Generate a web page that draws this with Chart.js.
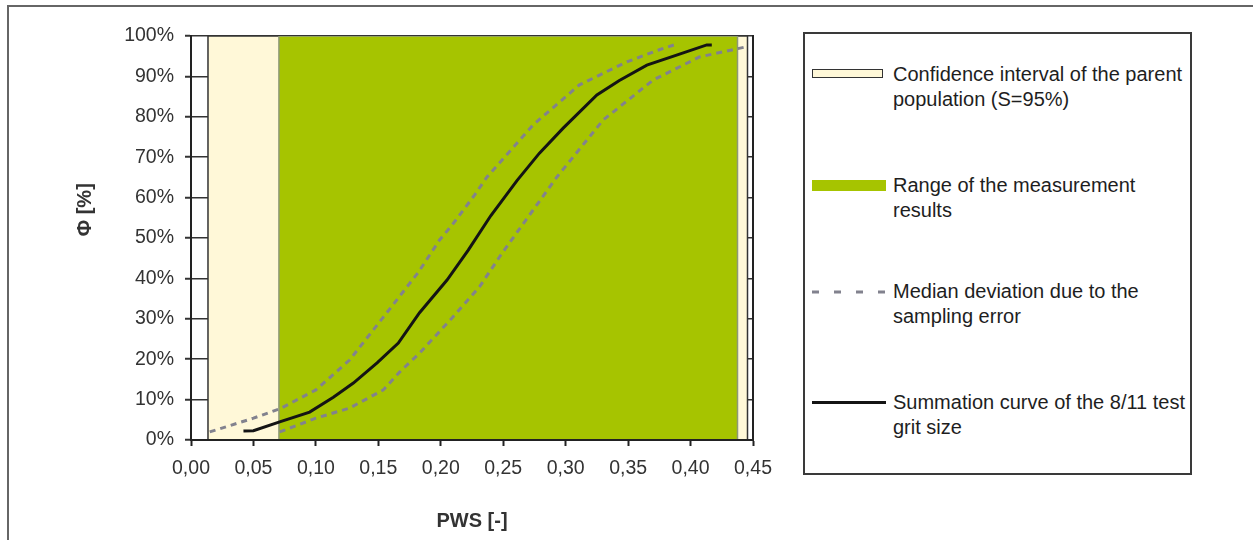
<!DOCTYPE html>
<html>
<head>
<meta charset="utf-8">
<script src="https://cdn.jsdelivr.net/npm/chart.js@4.4.1/dist/chart.umd.min.js"></script>
<style>
html,body{margin:0;padding:0;background:#fff;width:1253px;height:540px;overflow:hidden;font-family:"Liberation Sans",Arial,sans-serif;}
#frame{position:absolute;left:7px;top:5px;width:1400px;height:700px;border-left:2px solid #666;border-top:2px solid #666;}
#wrap{position:absolute;left:0;top:0;width:800px;height:540px;}
#legend{position:absolute;left:803px;top:32px;width:385px;height:439px;border:2px solid #3a3a3a;background:#fff;}
.txt{position:absolute;left:88px;font-size:20px;line-height:25px;color:#1e1e1e;white-space:nowrap;}
.sw{position:absolute;left:7px;box-sizing:border-box;}
</style>
</head>
<body>
<div id="frame"></div>
<div id="wrap"><canvas id="c"></canvas></div>
<div id="legend"></div>
<script>
// ---- data ----
const xTickLabels = ['0,00','0,05','0,10','0,15','0,20','0,25','0,30','0,35','0,40','0,45'];
const yTickLabels = ['0%','10%','20%','30%','40%','50%','60%','70%','80%','90%','100%'];
const xTitle = 'PWS [-]';
const yTitle = 'Φ [%]';

// Confidence interval of the parent population (band edges, PWS)
const ciX = [0.0136, 0.0136, 0.4456, 0.4456];
const ciY = [0, 100, 100, 0];
// Range of the measurement results (band edges, PWS)
const rangeX = [0.0704, 0.0704, 0.4376, 0.4376];
const rangeY = [0, 100, 100, 0];

// Summation curve of the 8/11 test grit size
const sumX = [0.042, 0.050, 0.071, 0.095, 0.114, 0.130, 0.149, 0.166, 0.183, 0.205, 0.222, 0.240, 0.261, 0.279, 0.298, 0.325, 0.343, 0.365, 0.390, 0.413, 0.417];
const sumY = [2.2, 2.3, 4.5, 6.9, 10.6, 14.1, 19.1, 24.0, 31.5, 39.6, 47.0, 55.5, 64.2, 71.0, 77.2, 85.4, 89.0, 92.8, 95.4, 97.8, 97.8];

// Median deviation due to the sampling error (upper / lower)
const upX = [0.015, 0.050, 0.071, 0.100, 0.127, 0.154, 0.182, 0.199, 0.209, 0.227, 0.237, 0.274, 0.311, 0.349, 0.375, 0.387];
const upY = [2.0, 5.4, 7.7, 12.4, 19.8, 30.4, 41.5, 49.5, 53.2, 60.6, 65.1, 78.0, 87.9, 93.6, 96.6, 97.8];
const loX = [0.071, 0.100, 0.127, 0.154, 0.167, 0.183, 0.209, 0.231, 0.247, 0.255, 0.293, 0.330, 0.370, 0.407, 0.4456];
const loY = [2.0, 5.4, 7.9, 12.4, 16.8, 21.5, 30.2, 37.9, 45.3, 48.8, 65.1, 79.2, 89.1, 94.8, 97.4];

const legendLabels = [
  ['Confidence interval of the parent', 'population (S=95%)'],
  ['Range of the measurement', 'results'],
  ['Median deviation due to the', 'sampling error'],
  ['Summation curve of the 8/11 test', 'grit size']
];

// ---- build ----
const zip = (xs, ys) => xs.map((x, i) => ({x: x, y: ys[i]}));
const FONT = '"Liberation Sans", Arial, sans-serif';
Chart.defaults.font.family = FONT;

const CREAM = '#fff8d8', GREEN = '#a6c400', DASH = '#82828e', BLACK = '#141414';

const yTitlePlugin = {
  id: 'yTitle',
  afterDraw(chart) {
    const {ctx, chartArea: a} = chart;
    ctx.save();
    ctx.translate(a.left - 106, a.top + (a.bottom - a.top) * 0.43);
    ctx.rotate(-Math.PI / 2);
    ctx.font = 'bold 20px ' + FONT;
    ctx.fillStyle = '#333';
    ctx.textAlign = 'center';
    ctx.textBaseline = 'middle';
    ctx.fillText(yTitle, 0, 0);
    ctx.restore();
  }
};

new Chart(document.getElementById('c'), {
  type: 'line',
  data: {
    datasets: [
      {label: legendLabels[3].join(' '), data: zip(sumX, sumY), borderColor: BLACK, borderWidth: 3,
       pointRadius: 0, tension: 0, fill: false, order: 0},
      {label: legendLabels[2].join(' '), data: zip(upX, upY), borderColor: DASH, borderWidth: 3,
       borderDash: [6, 5], pointRadius: 0, tension: 0, fill: false, order: 0},
      {label: legendLabels[2].join(' ') + ' (lower)', data: zip(loX, loY), borderColor: DASH, borderWidth: 3,
       borderDash: [6, 5], pointRadius: 0, tension: 0, fill: false, order: 0},
      {label: legendLabels[1].join(' '), data: zip(rangeX, rangeY), borderColor: '#8e9878', borderWidth: 1.5,
       backgroundColor: GREEN, fill: 'origin', pointRadius: 0, tension: 0, order: 1},
      {label: legendLabels[0].join(' '), data: zip(ciX, ciY), borderColor: '#333', borderWidth: 1.5,
       backgroundColor: CREAM, fill: 'origin', pointRadius: 0, tension: 0, order: 2}
    ]
  },
  options: {
    responsive: true,
    maintainAspectRatio: false,
    animation: false,
    layout: {padding: {top: 36, right: 47, bottom: 0, left: 0}},
    plugins: {legend: {display: false}, tooltip: {enabled: false}},
    scales: {
      x: {
        type: 'linear', min: 0, max: 0.45,
        afterFit: s => { s.height = 100; },
        ticks: {stepSize: 0.05, padding: 11, color: '#333', font: {size: 19.5},
                callback: v => xTickLabels[Math.round(v / 0.05)]},
        grid: {drawOnChartArea: false, drawTicks: true, tickLength: 6, color: '#222', tickWidth: 2},
        border: {display: true, color: '#222', width: 2, z: 1},
        title: {display: true, text: xTitle, color: '#333', font: {size: 20, weight: 'bold'},
                padding: {top: 0, bottom: 7}}
      },
      y: {
        type: 'linear', min: 0, max: 100,
        afterFit: s => { s.width = 191; },
        ticks: {stepSize: 10, padding: 11, color: '#333', font: {size: 19.5},
                callback: v => yTickLabels[Math.round(v / 10)]},
        grid: {color: '#333', lineWidth: 1.5, tickLength: 6, tickWidth: 2},
        border: {display: true, color: '#222', width: 2, z: 1}
      },
      y2: {
        type: 'linear', position: 'right', min: 0, max: 100,
        afterFit: s => { s.width = 0; },
        ticks: {display: false},
        grid: {display: false},
        border: {display: true, color: '#222', width: 2, z: 1}
      }
    }
  },
  plugins: [yTitlePlugin]
});

// ---- HTML legend ----
const lg = document.getElementById('legend');
const tops = [28, 139, 245, 356];
const swatches = [
  '<div class="sw" style="top:35px;width:71px;height:9px;background:' + CREAM + ';border:1.5px solid #333;"></div>',
  '<div class="sw" style="top:146px;width:74px;height:11px;background:' + GREEN + ';"></div>',
  '<svg class="sw" style="top:255px" width="76" height="6"><line x1="0" y1="3" x2="76" y2="3" stroke="' + DASH + '" stroke-width="3" stroke-dasharray="7 15"/></svg>',
  '<div class="sw" style="top:367px;width:74px;height:3px;background:' + BLACK + ';"></div>'
];
legendLabels.forEach((lines, i) => {
  lg.insertAdjacentHTML('beforeend', swatches[i] +
    '<div class="txt" style="top:' + tops[i] + 'px">' + lines.join('<br>') + '</div>');
});
</script>
</body>
</html>
